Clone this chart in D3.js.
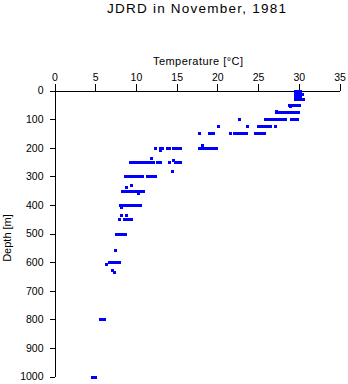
<!DOCTYPE html>
<html>
<head>
<meta charset="utf-8">
<script src="https://cdn.jsdelivr.net/npm/d3@7"></script>
<style>
  html, body { margin: 0; padding: 0; background: #fff; }
  svg { display: block; font-family: "Liberation Sans", Arial, sans-serif; }
</style>
</head>
<body>
<svg id="chart" width="348" height="384"></svg>
<script>
// Temperature profile readings, grouped by sampling depth (m)
const depthLevels = [0, 5, 10, 12, 15, 20, 25, 29, 30, 50, 55, 73, 75, 100, 125, 150, 192, 200, 207,
  235, 242, 250, 280, 300, 330, 338, 350, 359, 400, 406, 434, 450, 500, 557, 600, 605, 627, 635, 800, 1000];
const temperatures = [
  [29.5, 29.7, 29.9, 30.1],                  // 0
  [29.5, 29.7, 29.9, 30.1],                  // 5
  [29.5, 29.7, 29.9, 30.1],                  // 10
  [30.4],                                    // 12
  [29.5, 29.7, 29.9, 30.1],                  // 15
  [29.5, 29.7, 29.9, 30.1],                  // 20
  [29.5, 29.7, 29.9, 30.1],                  // 25
  [30.5],                                    // 29
  [29.5, 29.7, 29.9, 30.1],                  // 30
  [28.8, 29.1, 29.4, 29.7, 30.0],            // 50
  [28.9],                                    // 55
  [27.2],                                    // 73
  [27.2, 27.5, 27.8, 28.1, 28.4, 28.7, 29.0, 29.3, 29.6, 29.9],   // 75
  [22.7, 25.9, 26.2, 26.5, 26.8, 27.1, 27.4, 27.7, 28.0, 28.3, 29.0, 29.3, 29.6, 29.8], // 100
  [20.1, 23.6, 25.0, 25.3, 25.6, 25.9, 26.2, 26.5, 27.1],          // 125
  [17.7, 19.0, 19.3, 19.5, 21.6, 22.1, 22.4, 22.7, 23.0, 23.2, 23.5,
   24.6, 24.9, 25.2, 25.5, 25.7],                                  // 150
  [18.1],                                                          // 192
  [12.4, 12.9, 13.2, 13.8, 14.0, 14.6, 14.9, 15.2, 15.4,
   17.8, 18.1, 18.4, 18.7, 19.0, 19.3, 19.6, 19.8],                // 200
  [13.0],                                                          // 207
  [11.8],                                                          // 235
  [14.6],                                                          // 242
  [9.3, 9.6, 9.9, 10.3, 10.6, 10.9, 11.2, 11.5, 11.8, 12.1, 12.6, 12.9,
   14.1, 14.8, 15.1, 15.4],                                        // 250
  [14.4],                                                          // 280
  [8.7, 9.0, 9.3, 9.6, 9.9, 10.2, 10.5, 10.7, 11.4, 11.7, 12.0, 12.3], // 300
  [9.4],                                                           // 330
  [8.8],                                                           // 338
  [8.35, 8.65, 8.95, 9.25, 9.55, 9.85, 10.15, 10.45, 10.75, 10.9], // 350
  [10.3],                                                          // 359
  [8.1, 8.4, 8.7, 9.0, 9.3, 9.6, 9.9, 10.2, 10.5],                 // 400
  [8.15],                                                          // 406
  [8.2, 8.8],                                                      // 434
  [7.9, 8.5, 8.8, 9.1, 9.4],                                       // 450
  [7.6, 7.9, 8.2, 8.5, 8.65],                                      // 500
  [7.4],                                                           // 557
  [6.7, 7.0, 7.3, 7.6, 7.9],                                       // 600
  [6.3],                                                           // 605
  [7.1],                                                           // 627
  [7.25],                                                          // 635
  [5.6, 5.85, 6.1],                                                // 800
  [4.6, 4.85, 5.0]                                                 // 1000
];
const tempTicks = [0, 5, 10, 15, 20, 25, 30, 35];
const depthTicks = [0, 100, 200, 300, 400, 500, 600, 700, 800, 900, 1000];

const svg = d3.select("#chart");

const x = d3.scaleLinear().domain([0, 35]).range([54.5, 339.5]);
const y = d3.scaleLinear().domain([0, 1000]).range([90.5, 376.5]);

// flatten level groups into individual observations
const obs = [];
depthLevels.forEach((d, i) => temperatures[i].forEach(t => obs.push({ depth: d, temp: t })));

// title
svg.append("text")
  .attr("x", 196.5).attr("y", 13)
  .attr("text-anchor", "middle")
  .attr("font-size", 13.5)
  .attr("textLength", 179).attr("lengthAdjust", "spacing")
  .text("JDRD in November, 1981");

// temperature axis along the top
const xAxis = svg.append("g")
  .attr("transform", `translate(0,${y(0)})`)
  .call(d3.axisTop(x).tickValues(tempTicks).tickSize(7).tickSizeOuter(0).tickPadding(3));

// depth axis on the left, increasing downward
const yAxis = svg.append("g")
  .attr("transform", `translate(${x(0)},0)`)
  .call(d3.axisLeft(y).tickValues(depthTicks).tickFormat(d3.format("d"))
    .tickSize(5).tickSizeOuter(0).tickPadding(6));

[xAxis, yAxis].forEach(g => {
  g.selectAll("path, line").attr("stroke", "#000").attr("shape-rendering", "crispEdges");
  g.selectAll("text").attr("font-size", 10.5).attr("fill", "#000")
    .attr("font-family", "'Liberation Sans', Arial, sans-serif");
});

svg.append("text")
  .attr("x", 198).attr("y", 64.5)
  .attr("text-anchor", "middle")
  .attr("font-size", 11)
  .attr("textLength", 90).attr("lengthAdjust", "spacing")
  .text("Temperature [°C]");

svg.append("text")
  .attr("transform", `translate(11,${238}) rotate(-90)`)
  .attr("text-anchor", "middle")
  .attr("font-size", 11)
  .text("Depth [m]");

// observation markers
svg.append("g").selectAll("rect")
  .data(obs)
  .join("rect")
  .attr("x", d => Math.round(x(d.temp)) - 1.5)
  .attr("y", d => Math.round(y(d.depth)) - 1.5)
  .attr("width", 3).attr("height", 3)
  .attr("fill", "#0000ff")
  .attr("shape-rendering", "crispEdges");
</script>
</body>
</html>
